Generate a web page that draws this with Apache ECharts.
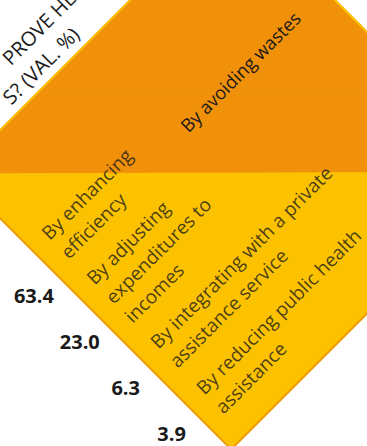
<!DOCTYPE html>
<html>
<head>
<meta charset="utf-8">
<script src="https://cdn.jsdelivr.net/npm/echarts@6/dist/echarts.min.js"></script>
<style>
  html, body { margin:0; padding:0; width:367px; height:446px; overflow:hidden; background:#ffffff; }
  #wrap { position:absolute; left:-198px; top:169.7px; width:540px; height:540px;
          transform-origin:0 0; transform:rotate(-45deg); }
</style>
</head>
<body>
<div id="wrap"></div>
<script>
// ---- data ----
const categories = [
  'By enhancing\nefficiency',
  'By adjusting\nexpenditures to\nincomes',
  'By integrating with a private\nassistance service',
  'By reducing public health\nassistance'
];
const values = [63.4, 23.0, 6.3, 3.9];
const topCategory = 'By avoiding wastes';
const titleLines = ['PROVE HE', 'S? (VAL. %)'];

// ---- style ----
const FONT = 'Open Sans';
const YELLOW = '#FCC200';
const ORANGE = '#F1910A';
const EDGE = '#EE9A00';
const labelNudge = [-21, -9, 3, 3];

// diamond (in the rotated local frame)
const D = { left: 106, top: 112, width: 391, height: 389 };
const rowsGrid = { left: 106, top: 220.5, width: 391, height: 259.6 };

const chart = echarts.init(document.getElementById('wrap'), null, { renderer: 'svg' });

const R = D.left + D.width, B = D.top + D.height;
const txt = (size, weight) => (weight ? weight + ' ' : '') + size + 'px "' + FONT + '"';

chart.setOption({
  animation: false,
  graphic: [
    { type: 'rect', z: -20, shape: { x: D.left, y: D.top, width: D.width, height: D.height },
      style: { fill: YELLOW, stroke: EDGE, lineWidth: 2 } },
    { type: 'polygon', z: -19, shape: { points: [[D.left, D.top], [R, D.top], [R, B]] },
      style: { fill: ORANGE, stroke: YELLOW, lineWidth: 2 } },
    { type: 'line', z: -18, shape: { x1: D.left + 116, y1: D.top + 1, x2: R - 1, y2: B - 114 },
      style: { stroke: '#F49A1C', lineWidth: 1, opacity: 0.6 } },
    { type: 'text', z: 10, x: 299, y: 240,
      style: { text: topCategory, font: txt(18.3), fill: '#1a1a1a',
               textAlign: 'left', textVerticalAlign: 'middle' } },
    { type: 'text', z: 10, x: 221, y: 67,
      style: { text: titleLines[0], font: txt(20), fill: '#1a1a1a',
               textAlign: 'left', textVerticalAlign: 'middle' } },
    { type: 'text', z: 10, x: 292, y: 95,
      style: { text: titleLines[1], font: txt(20), fill: '#1a1a1a',
               textAlign: 'right', textVerticalAlign: 'middle' } }
  ],
  grid: [ Object.assign({}, rowsGrid) ],
  xAxis: [ { type: 'value', min: 0, max: 1, show: false } ],
  yAxis: [ {
    type: 'category', data: categories, inverse: true,
    axisLine: { show: false }, axisTick: { show: false }, splitLine: { show: false },
    axisLabel: {
      formatter: (v, i) => values[i].toFixed(1),
      rotate: -45, align: 'center', verticalAlign: 'middle', margin: 31,
      fontFamily: FONT, fontWeight: 'bold', fontSize: 20, color: '#1a1a1a'
    }
  } ],
  series: [ {
    type: 'scatter', symbolSize: 0, silent: true,
    data: categories.map((c, i) => ({ value: [0, c], label: { offset: [0, labelNudge[i]] } })),
    label: {
      show: true, position: 'right', distance: 19,
      formatter: p => categories[p.dataIndex],
      fontFamily: FONT, fontSize: 19, lineHeight: 27, color: '#1a1a1a', align: 'left'
    }
  } ]
});
</script>
</body>
</html>
